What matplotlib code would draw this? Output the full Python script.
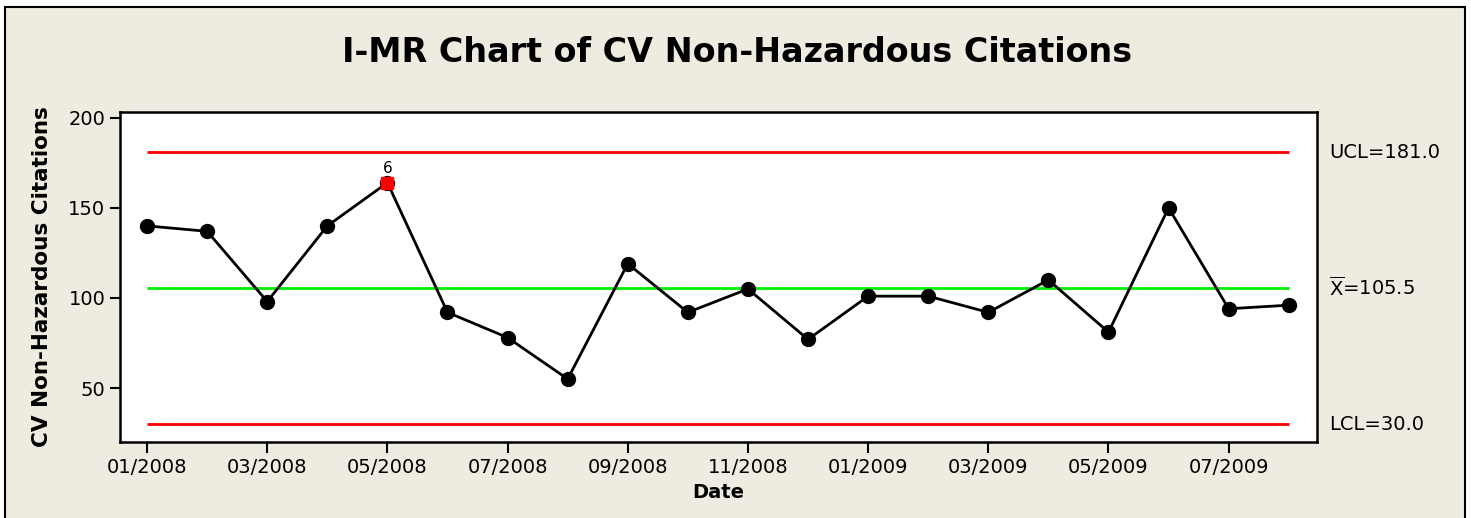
from matplotlib import pyplot as plt
from matplotlib.patches import Rectangle

# monthly values, 01/2008 .. 08/2009
months = ['01/2008', '02/2008', '03/2008', '04/2008', '05/2008', '06/2008',
          '07/2008', '08/2008', '09/2008', '10/2008', '11/2008', '12/2008',
          '01/2009', '02/2009', '03/2009', '04/2009', '05/2009', '06/2009',
          '07/2009', '08/2009']
citations = [140, 137, 98, 140, 164, 92, 78, 55, 119, 92,
             105, 77, 101, 101, 92, 110, 81, 150, 94, 96]
ucl, center, lcl = 181.0, 105.5, 30.0
flagged = [4]          # index of the point failing test 6
flag_label = '6'
yticks = [50, 100, 150, 200]

bg = '#eeebe0'
W, H = 1471, 518
fig = plt.figure(figsize=(W/100, H/100), dpi=100, facecolor='white')

# beige panel with black frame (open at the bottom edge of the image)
fig.patches.append(Rectangle((5/W, -0.05), 1460/W, 1.05 - 7/H, transform=fig.transFigure,
                             facecolor=bg, edgecolor='black', lw=1.5, zorder=-10))

ax = fig.add_axes([120/W, 1 - 441.7/H, (1317-120)/W, (441.7-111.7)/H])
ax.set_facecolor('white')

x = list(range(len(citations)))
ax.plot(x, citations, color='black', lw=2, marker='o', ms=10, zorder=3)
for i in flagged:
    ax.plot(i, citations[i], marker='s', color='red', ms=9, ls='none', zorder=4)
    ax.text(i, citations[i] + 3.5, flag_label, ha='center', va='bottom', fontsize=11)

ax.hlines([ucl, lcl], x[0], x[-1], colors='red', lw=2, zorder=2)
ax.hlines(center, x[0], x[-1], colors='#00ee00', lw=2, zorder=2)

ax.set_xlim(-0.45, 19.47)
ax.set_ylim(20.2, 203.4)
ax.set_xticks(x[::2])
ax.set_xticklabels(months[::2], fontsize=14)
ax.set_yticks(yticks)
ax.tick_params(axis='y', labelsize=14, length=7, width=1.5)
ax.tick_params(axis='x', length=8, width=1.5, pad=4)
for s in ax.spines.values():
    s.set_linewidth(1.8)

ax.set_xlabel('Date', fontsize=14, fontweight='bold', labelpad=4)
ax.set_ylabel('CV Non-Hazardous Citations', fontsize=15.5, fontweight='bold', labelpad=12)

# control limit labels on the right
tx = 1.01
ax.text(tx, ucl, 'UCL=181.0', transform=ax.get_yaxis_transform(), va='center', fontsize=14)
ax.text(tx, center, r'$\overline{\mathrm{X}}$=105.5', transform=ax.get_yaxis_transform(), va='center', fontsize=14)
ax.text(tx, lcl, 'LCL=30.0', transform=ax.get_yaxis_transform(), va='center', fontsize=14)

fig.text(737/W, 1 - 52/H, 'I-MR Chart of CV Non-Hazardous Citations',
         ha='center', va='center', fontsize=24, fontweight='bold')

fig.savefig('out.png', dpi=100, facecolor='white')
